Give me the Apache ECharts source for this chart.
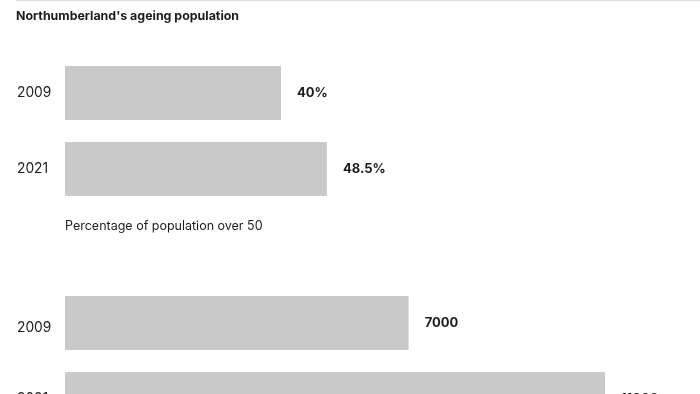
<!DOCTYPE html>
<html>
<head>
<meta charset="utf-8">
<script src="https://cdn.jsdelivr.net/npm/echarts@6/dist/echarts.min.js"></script>
<style>html,body{margin:0;padding:0;background:#fff;overflow:hidden}#c{width:700px;height:460px}</style>
</head>
<body>
<div id="c"></div>
<script>
const titleText = "Northumberland's ageing population";
const years1 = ['2009', '2021'];
const pctOver50 = [40, 48.5];
const pctLabels = ['40%', '48.5%'];
const caption1 = 'Percentage of population over 50';
const years2 = ['2009', '2021'];
const counts2 = [7000, 11000];
const countLabels = ['7000', '11000'];

const FONT = 'Inter';
const barColor = '#c8c9c8';
const textColor = '#1c1c1c';

const chart = echarts.init(document.getElementById('c'), null, {renderer: 'canvas'});

function barSeries(idx, values, labels) {
  return {
    type: 'bar',
    xAxisIndex: idx, yAxisIndex: idx,
    data: values,
    barWidth: 54,
    itemStyle: {color: barColor},
    silent: true,
    label: {
      show: true, position: 'right', distance: 16,
      formatter: p => labels[p.dataIndex],
      fontFamily: FONT, fontWeight: 'bold', fontSize: 13, color: textColor
    }
  };
}

function catAxis(idx, cats, offsets) {
  return {
    type: 'category', gridIndex: idx, data: cats, inverse: true,
    axisLine: {show: false}, axisTick: {show: false},
    axisLabel: {
      margin: 48, align: 'left',
      fontFamily: FONT, fontSize: 13.8, color: textColor,
      formatter: (v, i) => '{s' + i + '|' + v + '}',
      rich: {
        s0: {fontFamily: FONT, fontSize: 13.8, color: textColor, padding: [offsets[0] * 2, 0, 0, 0]},
        s1: {fontFamily: FONT, fontSize: 13.8, color: textColor, padding: [offsets[1] * 2, 0, 0, 0]}
      }
    }
  };
}

chart.setOption({
  animation: false,
  backgroundColor: '#fff',
  title: [
    {text: titleText, left: 11, top: 5,
     textStyle: {fontFamily: FONT, fontWeight: 'bold', fontSize: 12.4, color: textColor}},
    {text: caption1, left: 60, top: 215,
     textStyle: {fontFamily: FONT, fontWeight: 'normal', fontSize: 12.5, color: textColor}}
  ],
  graphic: [
    {type: 'line', shape: {x1: 16, y1: 0.5, x2: 700, y2: 0.5}, style: {stroke: '#dcdcdc', lineWidth: 1}}
  ],
  grid: [
    {left: 65, width: 540, top: 55, height: 152},
    {left: 65, width: 540, top: 285, height: 152}
  ],
  xAxis: [
    {type: 'value', gridIndex: 0, min: 0, max: 100, show: false},
    {type: 'value', gridIndex: 1, min: 0, max: 11000, show: false}
  ],
  yAxis: [
    catAxis(0, years1, [0, 0]),
    catAxis(1, years2, [5, 0])
  ],
  series: [
    barSeries(0, pctOver50, pctLabels),
    barSeries(1, counts2, countLabels)
  ]
});
</script>
</body>
</html>
